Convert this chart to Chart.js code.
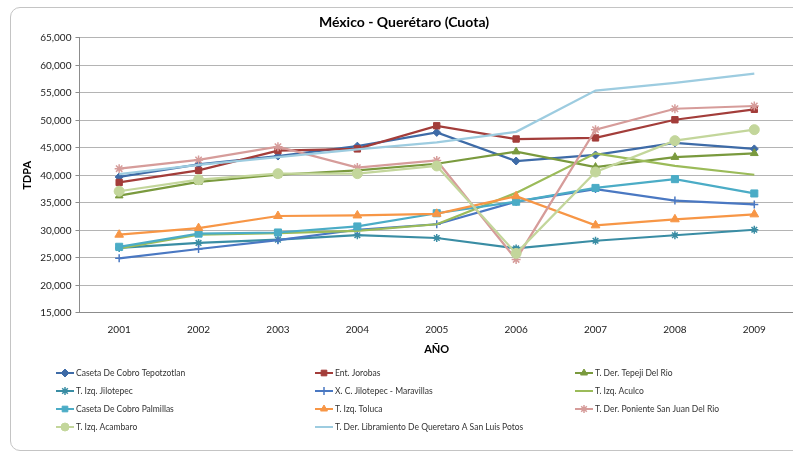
<!DOCTYPE html>
<html>
<head>
<meta charset="utf-8">
<script src="https://cdn.jsdelivr.net/npm/chart.js@4.4.1/dist/chart.umd.min.js"></script>
<style>
    html, body { margin: 0; padding: 0; background: #fff; }
    #wrap { position: relative; width: 793px; height: 455px; overflow: hidden; }
    #frame { position: absolute; left: 10px; top: 7px; width: 820px; height: 444px; border: 1px solid #c4c4c4; border-radius: 10px; box-sizing: border-box; }
    #chart { position: absolute; left: 0; top: 0; }
</style>
</head>
<body>
<div id="wrap">
    <div id="frame"></div>
    <canvas id="chart" width="800" height="455"></canvas>
</div>
<script>
(() => {
    'use strict';

    const years = ['2001', '2002', '2003', '2004', '2005', '2006', '2007', '2008', '2009'];
    const yTicks = { min: 15000, max: 65000, step: 5000 };

    // TDPA per station
    const tepotzotlan  = [39700, 42000, 43500, 45300, 47800, 42600, 43700, 45900, 44800];
    const jorobas      = [38700, 40900, 44500, 44800, 49000, 46600, 46800, 50100, 52000];
    const tepeji       = [36300, 38800, 40100, 40900, 42100, 44300, 41500, 43300, 44000];
    const jilotepec    = [26800, 27700, 28300, 29100, 28600, 26700, 28100, 29100, 30100];
    const maravillas   = [24900, 26600, 28200, 30100, 31100, 35200, 37500, 35400, 34700];
    const aculco       = [26700, 29200, 29500, 29900, 31100, 36800, 44000, 41700, 40100];
    const palmillas    = [27000, 29400, 29600, 30700, 33100, 35200, 37700, 39300, 36700];
    const toluca       = [29200, 30400, 32600, 32700, 33000, 36200, 30900, 32000, 32900];
    const poniente     = [41200, 42800, 45200, 41400, 42700, 24700, 48300, 52100, 52600];
    const acambaro     = [37100, 39200, 40300, 40300, 41700, 25800, 40600, 46300, 48300];
    const libramiento  = [40200, 41900, 43300, 44700, 46000, 47900, 55400, 56800, 58500];

    const seriesNames = [
        'Caseta De Cobro Tepotzotlan', 'Ent. Jorobas', 'T. Der. Tepeji Del Rio',
        'T. Izq. Jilotepec', 'X. C. Jilotepec - Maravillas', 'T. Izq. Aculco',
        'Caseta De Cobro Palmillas', 'T. Izq. Toluca', 'T. Der. Poniente San Juan Del Rio',
        'T. Izq. Acambaro', 'T. Der. Libramiento De Queretaro A San Luis Potos'
    ];
    const seriesValues = [tepotzotlan, jorobas, tepeji, jilotepec, maravillas, aculco,
        palmillas, toluca, poniente, acambaro, libramiento];

    const styles = [
        { color: '#3E6BA7', point: 'rectRot', r: 4 },
        { color: '#A33D3A', point: 'rect', r: 4.5 },
        { color: '#7A9A3E', point: 'triangle', r: 4.5 },
        { color: '#3A8DA4', point: 'star', r: 4 },
        { color: '#4A78C2', point: 'cross', r: 4 },
        { color: '#9BBB59', point: 'circle', r: 0 },
        { color: '#4BACC6', point: 'rect', r: 5 },
        { color: '#F79646', point: 'triangle', r: 5 },
        { color: '#D69C9A', point: 'star', r: 4.5 },
        { color: '#C3D69B', point: 'circle', r: 5 },
        { color: '#9DCCE0', point: 'circle', r: 0 }
    ];

    const datasets = seriesValues.map((vals, i) => ({
        label: seriesNames[i],
        data: vals,
        borderColor: styles[i].color,
        backgroundColor: styles[i].color,
        pointStyle: styles[i].point,
        pointRadius: styles[i].r,
        pointBorderWidth: (styles[i].point === 'star' || styles[i].point === 'cross') ? 1.5 : 1,
        borderWidth: 2.25,
        tension: 0,
        order: seriesValues.length - i
    }));

    // legend drawn as a 3-column grid under the chart, like the spreadsheet one
    const gridLegend = {
        id: 'gridLegend',
        afterDraw(chart, args, opts) {
            const ctx = chart.ctx;
            ctx.save();
            ctx.font = '8.5px Lato, "DejaVu Sans", sans-serif';
            ctx.textBaseline = 'middle';
            ctx.textAlign = 'left';
            chart.data.datasets.forEach((ds, i) => {
                const col = i % 3;
                const row = Math.floor(i / 3);
                const x = opts.colX[col];
                const y = opts.rowY[row];
                ctx.strokeStyle = ds.borderColor;
                ctx.fillStyle = ds.borderColor;
                ctx.lineWidth = 2;
                ctx.beginPath();
                ctx.moveTo(x, y);
                ctx.lineTo(x + 18, y);
                ctx.stroke();
                if (ds.pointRadius > 0) {
                    ctx.lineWidth = ds.pointBorderWidth;
                    Chart.helpers.drawPoint(ctx, {
                        pointStyle: ds.pointStyle,
                        radius: 4,
                        borderWidth: ds.pointBorderWidth,
                        rotation: 0
                    }, x + 9, y);
                }
                ctx.fillStyle = '#333';
                ctx.fillText(ds.label, x + 20, y + 0.5);
            });
            ctx.restore();
        }
    };

    const gridColor = '#b4b4b4';
    const tickFont = { family: 'Lato, "DejaVu Sans", sans-serif', size: 10 };

    new Chart(document.getElementById('chart').getContext('2d'), {
        type: 'line',
        data: { labels: years, datasets: datasets },
        options: {
            responsive: false,
            animation: false,
            layout: { padding: { left: 8, right: 0, top: 0, bottom: 99 } },
            plugins: {
                legend: { display: false },
                tooltip: { enabled: false },
                title: {
                    display: true,
                    text: 'México - Querétaro (Cuota)',
                    color: '#000',
                    font: { family: 'Lato, "DejaVu Sans", sans-serif', size: 14, weight: 'bold' },
                    padding: { top: 14, bottom: 7 }
                },
                gridLegend: {
                    colX: [56, 315, 575],
                    rowY: [373, 391, 409, 427]
                }
            },
            scales: {
                x: {
                    offset: true,
                    grid: { display: false, drawTicks: false },
                    border: { display: true, color: '#8c8c8c', width: 1 },
                    ticks: { color: '#222', font: tickFont, padding: 11, maxRotation: 0 },
                    title: {
                        display: true,
                        text: 'AÑO',
                        color: '#000',
                        font: { family: 'Lato, "DejaVu Sans", sans-serif', size: 11, weight: 'bold' },
                        padding: { top: -4, bottom: 0 }
                    }
                },
                y: {
                    min: yTicks.min,
                    max: yTicks.max,
                    grid: { color: gridColor, lineWidth: 1, tickLength: 4, tickColor: '#8c8c8c' },
                    border: { display: true, color: '#8c8c8c', width: 1 },
                    ticks: {
                        stepSize: yTicks.step,
                        color: '#222',
                        font: tickFont,
                        padding: 4,
                        callback: v => v.toLocaleString('en-US')
                    },
                    title: {
                        display: true,
                        text: 'TDPA',
                        color: '#000',
                        font: { family: 'Lato, "DejaVu Sans", sans-serif', size: 11, weight: 'bold' },
                        padding: { top: 13, bottom: 2 }
                    }
                }
            }
        },
        plugins: [gridLegend]
    });
})();
</script>
</body>
</html>
